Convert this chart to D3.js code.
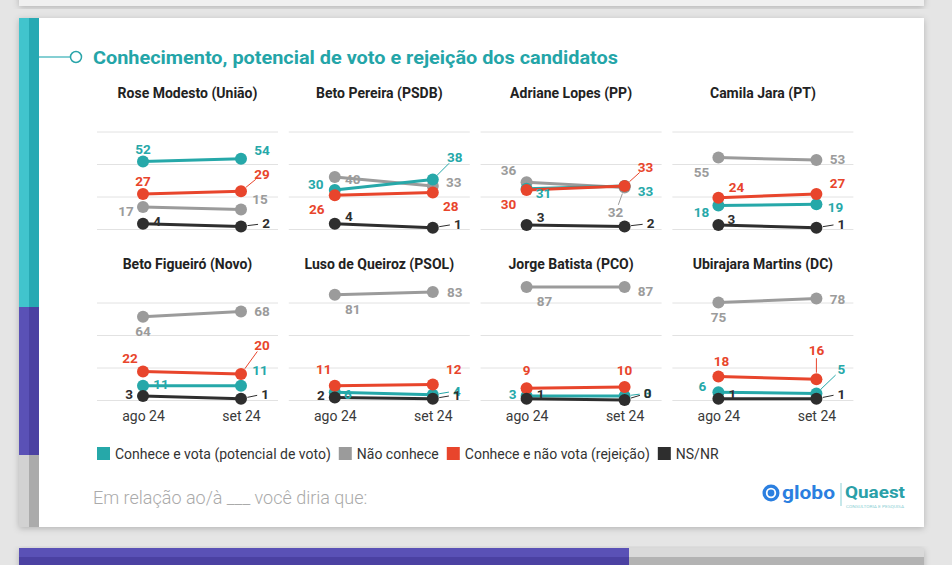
<!DOCTYPE html>
<html><head><meta charset="utf-8">
<script src="https://cdn.jsdelivr.net/npm/d3@7"></script>
<style>
html,body{margin:0;padding:0;background:#e5e5e5;overflow:hidden}
svg{display:block}
text{font-family:Roboto,"Noto Sans",sans-serif}
</style>
</head><body>
<svg id="c" width="952" height="565"></svg>
<script>
// ---------------- DATA ----------------
const chartTitle = "Conhecimento, potencial de voto e rejeição dos candidatos";
const candidates = ["Rose Modesto (União)","Beto Pereira (PSDB)","Adriane Lopes (PP)","Camila Jara (PT)",
                    "Beto Figueiró (Novo)","Luso de Queiroz (PSOL)","Jorge Batista (PCO)","Ubirajara Martins (DC)"];
const periods = ["ago 24","set 24"];
const seriesNames = ["Conhece e vota (potencial de voto)","Não conhece","Conhece e não vota (rejeição)","NS/NR"];
const conheceVota = [[52,54],[30,38],[31,33],[18,19],[11,11],[6,4],[3,3],[6,5]];
const naoConhece  = [[17,15],[40,33],[36,32],[55,53],[64,68],[81,83],[87,87],[75,78]];
const rejeicao    = [[27,29],[26,28],[30,33],[24,27],[22,20],[11,12],[9,10],[18,16]];
const nsnr        = [[4,2],[4,1],[3,2],[3,1],[3,1],[2,1],[1,0],[1,1]];
const gridTicks = [0,25,50,75];
const footnote = "Em relação ao/à ___ você diria que:";

// ---------------- LAYOUT (label offsets: [dx, dy, leader]) ----------------
const labelLayout = {
  vota: [[[0,-12,0],[21,-9,0]],[[-19,-6,0],[22,-22,1]],[[17,4,0],[21,5,0]],[[-17,7,0],[19,3,0]],
         [[18,-2,0],[19,-16,0]],[[13,2,0],[24,-4,1]],[[-14,-2,0],[23,-3,1]],[[-16,-6,0],[25,-24,1]]],
  nao:  [[[-17,4,0],[19,-10,0]],[[18,2,0],[21,-4,0]],[[-18,-12,0],[-9,25,1]],[[-17,15,0],[21,-1,0]],
         [[0,14,0],[21,0,0]],[[18,14,0],[22,0,0]],[[18,14,0],[21,4,0]],[[0,15,0],[21,1,0]]],
  rej:  [[[0,-13,0],[21,-17,1]],[[-18,14,0],[18,14,0]],[[-18,14,0],[21,-19,1]],[[18,-11,0],[21,-11,0]],
         [[-13,-13,0],[21,-29,1]],[[-11,-17,0],[21,-15,0]],[[0,-18,0],[0,-17,0]],[[3,-15,0],[0,-29,1]]],
  ns:   [[[14,-3,0],[25,-3,1]],[[14,-8,0],[25,-4,1]],[[14,-8,0],[26,-3,1]],[[13,-6,0],[25,-4,1]],
         [[-14,-2,0],[24,-5,1]],[[-14,-2,0],[24,-4,1]],[[14,-5,0],[23,-7,1]],[[14,-5,0],[25,-5,1]]]
};

const series = [
  {key:"vota", name:seriesNames[0], values:conheceVota, color:"#26a8a9"},
  {key:"nao",  name:seriesNames[1], values:naoConhece,  color:"#9b9b9b"},
  {key:"rej",  name:seriesNames[2], values:rejeicao,    color:"#e8452c"},
  {key:"ns",   name:seriesNames[3], values:nsnr,        color:"#2e2e2e"}
];
const drawOrder = ["nao","vota","rej","ns"];
const byKey = Object.fromEntries(series.map(s=>[s.key,s]));

const svg = d3.select("#c");
const defs = svg.append("defs");
const f = defs.append("filter").attr("id","sh").attr("x","-5%").attr("y","-5%").attr("width","110%").attr("height","115%");
f.append("feDropShadow").attr("dx",0).attr("dy",1.5).attr("stdDeviation",3).attr("flood-color","#000").attr("flood-opacity",0.22);

// background
svg.append("rect").attr("width",952).attr("height",565).attr("fill","#e5e5e5");
// previous card bottom
svg.append("rect").attr("x",19).attr("y",-20).attr("width",905).attr("height",26).attr("fill","#f0f0f0").attr("filter","url(#sh)");
// next card top
const nc = svg.append("g");
nc.append("rect").attr("x",19).attr("y",548).attr("width",905).attr("height",30).attr("fill","#fff").attr("filter","url(#sh)");
nc.append("rect").attr("x",19).attr("y",548).attr("width",610).attr("height",9).attr("fill","#5a51b6");
nc.append("rect").attr("x",19).attr("y",557).attr("width",610).attr("height",10).attr("fill","#4b41a2");
nc.append("rect").attr("x",629).attr("y",548).attr("width",295).attr("height",9).attr("fill","#dadada");
nc.append("rect").attr("x",629).attr("y",557).attr("width",295).attr("height",10).attr("fill","#b3b3b3");

// main card
svg.append("rect").attr("x",19).attr("y",18).attr("width",905).attr("height",509).attr("fill","#fff").attr("filter","url(#sh)");
const bars = [[18,307,"#41c4cd","#27a9b3"],[307,455,"#5a51b6","#4b41a2"],[455,527,"#d2d2d2","#ababab"]];
bars.forEach(b=>{
  svg.append("rect").attr("x",19).attr("y",b[0]).attr("width",10).attr("height",b[1]-b[0]).attr("fill",b[2]);
  svg.append("rect").attr("x",29).attr("y",b[0]).attr("width",10).attr("height",b[1]-b[0]).attr("fill",b[3]);
});

// title
svg.append("line").attr("x1",39).attr("x2",70.5).attr("y1",57).attr("y2",57).attr("stroke","#5dbfc5").attr("stroke-width",1.5);
svg.append("circle").attr("cx",76).attr("cy",57).attr("r",5.5).attr("fill","#fff").attr("stroke","#2aa5aa").attr("stroke-width",1.5);
svg.append("text").attr("x",93).attr("y",64).attr("font-size",19).attr("font-weight",700).attr("fill","#24a5a8")
  .attr("textLength",525).attr("lengthAdjust","spacingAndGlyphs").text(chartTitle);

// panels
candidates.forEach((name,i)=>{
  const row = Math.floor(i/4), col = i%4;
  const left = 97 + col*191.8, zero = 229 + row*171;
  const g = svg.append("g");
  const x = d3.scalePoint().domain(periods).range([left+46,left+144]);
  const y = d3.scaleLinear().domain([0,100]).range([zero,zero-130]);

  g.append("text").attr("x",left+90.5).attr("y",zero-131.5).attr("text-anchor","middle")
    .attr("font-size",14).attr("font-weight",700).attr("fill","#222").text(name);

  const grid = g.append("g").attr("transform",`translate(${left},0)`)
    .call(d3.axisRight(y).tickValues(gridTicks).tickSize(181).tickFormat(""));
  grid.select(".domain").remove();
  grid.selectAll(".tick line").attr("stroke","#e2e2e2").attr("stroke-width",1);

  if(row===1){
    const xa = g.append("g").attr("transform",`translate(0,${zero})`)
      .call(d3.axisBottom(x).tickSize(0).tickPadding(11.5));
    xa.select(".domain").remove();
    xa.selectAll("text").attr("font-size",14).attr("font-weight",400).attr("fill","#3a3a3a").attr("font-family","Roboto, sans-serif");
  }

  const line = d3.line().x((d,j)=>x(periods[j])).y(d=>y(d));
  drawOrder.forEach(k=>{
    const s = byKey[k], v = s.values[i];
    g.append("path").attr("d",line(v)).attr("fill","none").attr("stroke",s.color).attr("stroke-width",3);
    g.selectAll(null).data(v).enter().append("circle")
      .attr("cx",(d,j)=>x(periods[j])).attr("cy",d=>y(d)).attr("r",6).attr("fill",s.color);
  });
  drawOrder.forEach(k=>{
    const s = byKey[k], v = s.values[i];
    v.forEach((d,j)=>{
      const [dx,dy,leader] = labelLayout[k][i][j];
      const px = x(periods[j]), py = y(d);
      const lx = px+dx, ly = py+dy;
      if(leader){
        const len = Math.hypot(dx,dy), ux = dx/len, uy = dy/len;
        g.append("line").attr("x1",px+ux*6.5).attr("y1",py+uy*6.5)
          .attr("x2",lx-ux*8).attr("y2",ly-uy*8).attr("stroke",s.color).attr("stroke-width",1);
      }
      g.append("text").attr("x",lx).attr("y",ly).attr("dy","0.36em").attr("text-anchor","middle")
        .attr("font-size",13.5).attr("font-weight",700).attr("fill",s.color).text(d);
    });
  });
});

// legend
let lx = 97;
series.forEach(s=>{
  svg.append("rect").attr("x",lx).attr("y",447).attr("width",13).attr("height",13).attr("fill",s.color);
  const t = svg.append("text").attr("x",lx+18).attr("y",458.5).attr("font-size",14).attr("fill","#333").text(s.name);
  lx += 18 + t.node().getComputedTextLength() + 8;
});

// footnote
svg.append("text").attr("x",93).attr("y",503.5).attr("font-size",18).attr("font-weight",300).attr("fill","#aaa").text(footnote);

// logo
const lg = svg.append("g");
lg.append("circle").attr("cx",771).attr("cy",493).attr("r",8.5).attr("fill","#2b7fe0");
lg.append("circle").attr("cx",771).attr("cy",493).attr("r",5.2).attr("fill","#fff");
lg.append("circle").attr("cx",771).attr("cy",493).attr("r",3.4).attr("fill","#2b7fe0");
lg.append("text").attr("x",782).attr("y",499).attr("font-size",18.5).attr("font-weight",700).attr("fill","#2b7fe0")
  .attr("textLength",53).attr("lengthAdjust","spacingAndGlyphs").text("globo");
lg.append("line").attr("x1",841).attr("x2",841).attr("y1",483).attr("y2",506).attr("stroke","#8fd0d5").attr("stroke-width",1);
lg.append("text").attr("x",845).attr("y",498).attr("font-size",17).attr("font-weight",700).attr("fill","#2aa0a8")
  .attr("textLength",60).attr("lengthAdjust","spacingAndGlyphs").text("Quaest");
lg.append("text").attr("x",846).attr("y",507.5).attr("font-size",4).attr("fill","#8ccfd4")
  .attr("textLength",58).attr("lengthAdjust","spacingAndGlyphs").text("CONSULTORIA E PESQUISA");
</script>
</body></html>
